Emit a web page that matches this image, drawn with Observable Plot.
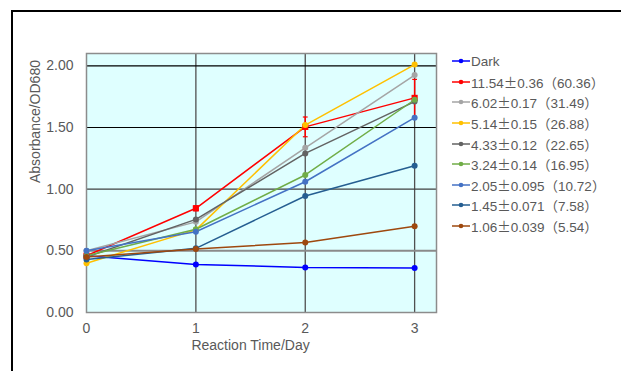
<!DOCTYPE html>
<html>
<head>
<meta charset="utf-8">
<script src="https://cdn.jsdelivr.net/npm/d3@7"></script>
<script src="https://cdn.jsdelivr.net/npm/@observablehq/plot@0.6"></script>
<style>
  html, body { margin: 0; padding: 0; background: #fff; }
  #wrap { position: relative; width: 621px; height: 371px; overflow: hidden; background: #fff; }
  #wrap svg.plot { position: absolute; left: 0; top: 0; }
  #frameBox { position: absolute; left: 11px; top: 10px; width: 800px; height: 500px;
    border-top: 2px solid #000; border-left: 2px solid #000; pointer-events: none; }
  #legend { position: absolute; left: 452px; top: 51px; font-family: "Liberation Sans", Arial, "Noto Sans CJK JP", sans-serif;
    font-size: 13.5px; color: #595959; }
  #legend .row { display: flex; align-items: center; height: 20.6px; white-space: nowrap; }
  #legend .row svg { margin-right: 1px; }
  #legend .cjk { font-family: "Noto Sans CJK JP", sans-serif; }
</style>
</head>
<body>
<div id="wrap"><div id="frameBox"></div><div id="legend"></div></div>
<script>
const days = [0, 1, 2, 3];
const seriesNames = ["Dark", "11.54±0.36（60.36）", "6.02±0.17（31.49）", "5.14±0.15（26.88）",
  "4.33±0.12（22.65）", "3.24±0.14（16.95）", "2.05±0.095（10.72）", "1.45±0.071（7.58）", "1.06±0.039（5.54）"];
const seriesColors = ["#0000ff", "#ff0000", "#a5a5a5", "#ffc000", "#636363", "#70ad47", "#4472c4", "#255e91", "#9e480e"];
const darkVals   = [0.46, 0.39, 0.365, 0.36];
const s1154Vals  = [0.46, 0.845, 1.505, 1.74];
const s602Vals   = [0.50, 0.735, 1.335, 1.925];
const s514Vals   = [0.40, 0.67, 1.52, 2.01];
const s433Vals   = [0.45, 0.755, 1.29, 1.71];
const s324Vals   = [0.46, 0.675, 1.115, 1.725];
const s205Vals   = [0.50, 0.655, 1.06, 1.58];
const s145Vals   = [0.43, 0.52, 0.945, 1.19];
const s106Vals   = [0.45, 0.515, 0.567, 0.70];
const s1154Err   = [0.01, 0.02, 0.08, 0.15];
const yTicks = [0, 0.5, 1, 1.5, 2];

const allVals = [darkVals, s1154Vals, s602Vals, s514Vals, s433Vals, s324Vals, s205Vals, s145Vals, s106Vals];
const table = allVals.flatMap((vals, i) => vals.map((v, j) => ({series: seriesNames[i], day: days[j], value: v})));
const errTable = days.map((d, j) => ({day: d, value: s1154Vals[j], err: s1154Err[j]}));
const capW = 0.022;

const plot = Plot.plot({
  width: 621,
  height: 371,
  marginLeft: 86,
  marginRight: 185,
  marginTop: 53,
  marginBottom: 59,
  style: {background: "transparent", fontFamily: "'Liberation Sans', Arial, sans-serif", fontSize: "14px", color: "#595959"},
  x: {domain: [0, 3.2]},
  y: {domain: [0, 2.1]},
  color: {domain: seriesNames, range: seriesColors},
  marks: [
    Plot.frame({fill: "#dfffff"}),
    Plot.ruleX([1, 2, 3], {stroke: "#505050", strokeWidth: 1.3}),
    Plot.ruleY([1], {stroke: "#404040", strokeWidth: 1.2}),
    Plot.ruleY([1.5, 2], {stroke: "#000", strokeWidth: 1.2}),
    Plot.ruleY([0.5], {stroke: "#8a8a8a", strokeWidth: 2}),
    Plot.frame({stroke: "#8c8c8c", strokeWidth: 1.5}),
    Plot.axisX({ticks: days, tickSize: 0, tickPadding: 11, tickFormat: d3.format("d"), label: null, fill: "#595959", fontSize: 14}),
    Plot.axisY({ticks: yTicks, tickSize: 0, tickPadding: 13, tickFormat: d3.format(".2f"), label: null, fill: "#595959", fontSize: 14}),
    Plot.text(["Reaction Time/Day"], {x: 1.5, frameAnchor: "bottom", dy: 37, text: d => d, fill: "#595959", fontSize: 14}),
    Plot.text(["Absorbance/OD680"], {y: 1.05, frameAnchor: "left", dx: -51, rotate: -90, text: d => d, fill: "#595959", fontSize: 14}),
    Plot.line(table, {x: "day", y: "value", z: "series", stroke: "series", strokeWidth: 1.5}),
    Plot.ruleX(errTable, {x: "day", y1: d => d.value - d.err, y2: d => d.value + d.err, stroke: "#ff0000", strokeWidth: 1.5}),
    Plot.link(errTable, {x1: d => d.day - capW, x2: d => d.day + capW, y1: d => d.value + d.err, y2: d => d.value + d.err, stroke: "#ff0000", strokeWidth: 1.2}),
    Plot.link(errTable, {x1: d => d.day - capW, x2: d => d.day + capW, y1: d => d.value - d.err, y2: d => d.value - d.err, stroke: "#ff0000", strokeWidth: 1.2}),
    Plot.dot(table, {x: "day", y: "value", fill: "series", r: d => d.series === seriesNames[1] ? 3.5 : 2.6,
      symbol: d => d.series === seriesNames[1] ? "square" : "circle"})
  ]
});
plot.classList.add("plot");
document.getElementById("wrap").prepend(plot);

const legend = document.getElementById("legend");
seriesNames.forEach((name, i) => {
  const row = document.createElement("div");
  row.className = "row";
  const c = seriesColors[i];
  row.innerHTML = `<svg width="18" height="8"><line x1="0" x2="18" y1="4" y2="4" stroke="${c}" stroke-width="1.5"/><circle cx="9" cy="4" r="2.3" fill="${c}"/></svg>`;
  const span = document.createElement("span");
  span.innerHTML = name.replace(/[±（）]/g, m => `<span class="cjk">${m}</span>`);
  row.appendChild(span);
  legend.appendChild(row);
});
</script>
</body>
</html>
